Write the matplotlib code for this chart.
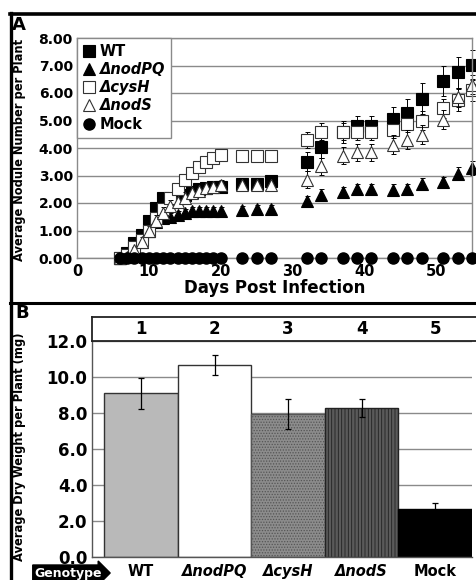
import matplotlib
matplotlib.use("Agg")
import matplotlib.pyplot as plt
from matplotlib.lines import Line2D
import numpy as np

# ---------------- Data: panel A ----------------
days = [6, 7, 8, 9, 10, 11, 12, 13, 14, 15, 16, 17, 18, 19, 20,
        23, 25, 27, 32, 34, 37, 39, 41, 44, 46, 48, 51, 53, 55]
wt = [0.0, 0.2, 0.55, 0.85, 1.35, 1.82, 2.18, 2.1, 2.2, 2.3, 2.4, 2.5, 2.55, 2.6, 2.6,
      2.7, 2.7, 2.8, 3.5, 4.05, 4.6, 4.8, 4.8, 5.05, 5.27, 5.8, 6.45, 6.75, 7.03]
wt_err = [0.0, 0.1, 0.15, 0.15, 0.2, 0.2, 0.2, 0.2, 0.2, 0.2, 0.2, 0.2, 0.2, 0.2, 0.2,
          0.2, 0.2, 0.2, 0.35, 0.4, 0.4, 0.35, 0.35, 0.45, 0.5, 0.55, 0.55, 0.55, 0.55]
nodpq = [0.0, 0.05, 0.25, 0.6, 1.0, 1.3, 1.45, 1.5, 1.55, 1.65, 1.7, 1.7, 1.72, 1.72, 1.72,
         1.75, 1.78, 1.78, 2.06, 2.3, 2.4, 2.5, 2.5, 2.48, 2.5, 2.7, 2.75, 3.07, 3.27]
nodpq_err = [0.0, 0.05, 0.1, 0.1, 0.15, 0.15, 0.15, 0.15, 0.15, 0.15, 0.15, 0.15, 0.15, 0.15, 0.15,
             0.15, 0.15, 0.15, 0.2, 0.2, 0.2, 0.2, 0.2, 0.2, 0.2, 0.2, 0.2, 0.25, 0.25]
cysh = [0.0, 0.1, 0.4, 0.65, 1.0, 1.45, 1.8, 2.2, 2.5, 2.85, 3.1, 3.3, 3.5, 3.65, 3.75,
        3.7, 3.7, 3.7, 4.3, 4.6, 4.6, 4.6, 4.6, 4.67, 4.88, 5.0, 5.45, 5.76, 6.12]
cysh_err = [0.0, 0.1, 0.1, 0.15, 0.15, 0.2, 0.2, 0.2, 0.2, 0.2, 0.2, 0.2, 0.2, 0.2, 0.2,
            0.2, 0.2, 0.2, 0.3, 0.3, 0.3, 0.3, 0.3, 0.3, 0.3, 0.35, 0.35, 0.4, 0.4]
nods = [0.0, 0.05, 0.3, 0.6, 1.0, 1.35, 1.65, 1.9, 2.05, 2.2, 2.35, 2.45, 2.55, 2.6, 2.65,
        2.65, 2.65, 2.65, 2.85, 3.33, 3.72, 3.84, 3.84, 4.12, 4.3, 4.48, 5.03, 5.84, 6.3]
nods_err = [0.0, 0.05, 0.1, 0.15, 0.15, 0.2, 0.2, 0.2, 0.2, 0.2, 0.2, 0.2, 0.2, 0.2, 0.2,
            0.2, 0.2, 0.2, 0.3, 0.3, 0.3, 0.3, 0.3, 0.35, 0.35, 0.35, 0.35, 0.35, 0.35]
mock = [0.0] * len(days)

series_labels = ["WT", "ΔnodPQ", "ΔcysH", "ΔnodS", "Mock"]

# ---------------- Data: panel B ----------------
genotypes = ["WT", "ΔnodPQ", "ΔcysH", "ΔnodS", "Mock"]
group_nums = ["1", "2", "3", "4", "5"]
dry_weight = [9.07, 10.65, 7.92, 8.25, 2.66]
dry_err = [0.85, 0.57, 0.85, 0.48, 0.32]

plt.rcParams['font.family'] = ['DejaVu Sans']
plt.rcParams['hatch.linewidth'] = 0.6

W, H = 477, 580
fig = plt.figure(figsize=(W / 100, H / 100), dpi=100)
fig.patch.set_facecolor("white")

def fx(px):
    return px / W

def fy(py):
    return 1 - py / H

GRID = "#8a8a8a"

# ---------------- Panel A ----------------
axA = fig.add_axes([fx(77), fy(258), fx(472) - fx(77), fy(38) - fy(258)])
axA.set_xlim(0, 55)
axA.set_ylim(0, 8)
axA.set_yticks(np.arange(0, 9, 1))
axA.set_yticklabels([f"{v:.2f}" for v in range(9)], fontsize=10, fontweight="bold")
axA.set_xticks([0, 10, 20, 30, 40, 50])
axA.set_xticklabels(["0", "10", "20", "30", "40", "50"], fontsize=10.5, fontweight="bold")
axA.tick_params(length=0, pad=3)
axA.tick_params(axis="x", pad=4)
axA.grid(axis="y", color=GRID, lw=1)
axA.set_axisbelow(True)
for s in axA.spines.values():
    s.set_color(GRID)
    s.set_linewidth(1)
axA.set_xlabel("Days Post Infection", fontsize=12, fontweight="bold", labelpad=0)

ms = 8
ebkw = dict(ecolor="black", elinewidth=0.7, capsize=1.8, capthick=0.7, linestyle="none", clip_on=False)
specs = [
    (wt, wt_err, dict(marker="s", mfc="black", mec="black")),
    (nodpq, nodpq_err, dict(marker="^", mfc="black", mec="black")),
    (cysh, cysh_err, dict(marker="s", mfc="white", mec="#333333")),
    (nods, nods_err, dict(marker="^", mfc="white", mec="#333333")),
]
handles = []
for (vals, errs, mk), lab in zip(specs, series_labels[:4]):
    axA.errorbar(days, vals, yerr=errs, fmt="none", **ebkw)
    ln, = axA.plot(days, vals, linestyle="none", markersize=ms if mk["marker"] == "s" else ms + 1,
                   markeredgewidth=0.8, clip_on=False, label=lab, **mk)
    handles.append(ln)
lnm, = axA.plot(days, mock, linestyle="none", marker="o", markersize=ms, mfc="black",
                mec="black", clip_on=False, label="Mock", zorder=5)
handles.append(lnm)

leg = axA.legend(handles=handles, loc="upper left", bbox_to_anchor=(0, 1), borderaxespad=0,
                 frameon=True, fancybox=False, edgecolor=GRID, framealpha=1,
                 handlelength=0.8, handletextpad=0.35, labelspacing=0.22, borderpad=0.4,
                 prop=dict(weight="bold", size=10.5))
leg.get_frame().set_linewidth(1)
for t, lab in zip(leg.get_texts(), series_labels):
    if lab.startswith("Δ"):
        t.set_fontstyle("italic")

# ---------------- Panel B ----------------
axB = fig.add_axes([fx(91.7), fy(557), fx(472) - fx(91.7), fy(340.5) - fy(557)])
x = np.arange(len(genotypes))
axB.set_xlim(-0.67, 4.5)
axB.set_ylim(0, 12.0)
axB.grid(axis="y", color=GRID, lw=1)
axB.set_axisbelow(True)
faces = ["#b9b9b9", "white", "#8c8c8c", "#5a5a5a", "black"]
hatches = [None, None, "......", "|||||", None]
edges = ["#333333", "#333333", "#555555", "#222222", "black"]
for xi, h, e, fc, hat, ec in zip(x, dry_weight, dry_err, faces, hatches, edges):
    axB.bar(xi, h, width=1.0, color=fc, edgecolor=ec, hatch=hat, linewidth=1.0, zorder=2)
    axB.errorbar(xi, h, yerr=e, fmt="none", ecolor="black", elinewidth=0.9,
                 capsize=2.5, capthick=0.9, zorder=3)
axB.set_yticks(np.arange(0, 13, 2))
axB.set_yticklabels([f"{v:.1f}" for v in range(0, 13, 2)], fontsize=12, fontweight="bold")
axB.set_xticks(x)
axB.set_xticklabels(genotypes, fontsize=10.5, fontweight="bold")
for t, lab in zip(axB.get_xticklabels(), genotypes):
    if lab.startswith("Δ"):
        t.set_fontstyle("italic")
axB.tick_params(length=0, pad=3)
axB.tick_params(axis="x", pad=5)
for s in ["top", "right"]:
    axB.spines[s].set_visible(False)
for s in ["left", "bottom"]:
    axB.spines[s].set_color("#555555")
    axB.spines[s].set_linewidth(1)

# group-number strip
axS = fig.add_axes([fx(91.7), fy(340.5), fx(476) - fx(91.7), fy(316.7) - fy(340.5)])
axS.set_xlim(-0.67, 4.5 + (476 - 472) / (472 - 91.7) * 5.17)
axS.set_ylim(0, 1)
axS.set_xticks([])
axS.set_yticks([])
for s in axS.spines.values():
    s.set_linewidth(1.3)
    s.set_color("#222222")
axS.spines["right"].set_visible(False)
for xi, n in zip(x, group_nums):
    axS.text(xi, 0.5, n, ha="center", va="center", fontsize=12, fontweight="bold")

# ---------------- Figure decorations ----------------
fig.text(fx(20), fy(150), "Average Nodule Number per Plant", rotation=90, ha="center",
         va="center", fontsize=8.3, fontweight="bold")
fig.text(fx(20), fy(447), "Average Dry Weight per Plant (mg)", rotation=90, ha="center",
         va="center", fontsize=8.3, fontweight="bold")
fig.text(fx(19), fy(25), "A", ha="center", va="center", fontsize=13, fontweight="bold")
fig.text(fx(22), fy(313), "B", ha="center", va="center", fontsize=13, fontweight="bold")
fig.text(fx(68), fy(573), "Genotype", ha="center", va="center", fontsize=9,
         fontweight="bold", color="white",
         bbox=dict(boxstyle="rarrow,pad=0.12", fc="black", ec="black"))

fig.add_artist(Line2D([fx(10), 1], [fy(14), fy(14)], color="black", lw=2.6))
fig.add_artist(Line2D([fx(11), fx(11)], [fy(13), 0], color="black", lw=2.4))
fig.add_artist(Line2D([fx(10), 1], [fy(303), fy(303)], color="black", lw=2.2))

fig.savefig("out.png", dpi=100, facecolor="white")
